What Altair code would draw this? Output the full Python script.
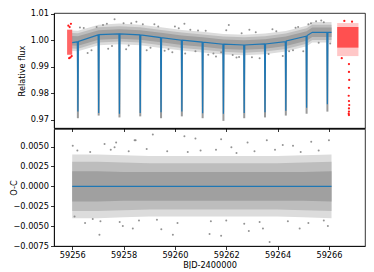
import altair as alt
import pandas as pd

# ---------------- data ----------------
# Blue transit model (time, relative flux)
model_t = [59256.00, 59256.20, 59256.22, 59256.24, 59257.01, 59257.03, 59257.05,
           59257.82, 59257.84, 59257.86, 59258.63, 59258.65, 59258.67, 59259.44,
           59259.46, 59259.48, 59260.25, 59260.27, 59260.29, 59261.06, 59261.08,
           59261.10, 59261.87, 59261.89, 59261.91, 59262.68, 59262.70, 59262.72,
           59263.49, 59263.51, 59263.53, 59264.30, 59264.32, 59264.34, 59265.11,
           59265.13, 59265.15, 59265.35, 59265.92, 59265.94, 59265.96, 59266.10]
model_f = [0.9991, 0.9994, 0.9730, 0.9995, 1.0020, 0.9725, 1.0021,
           1.0024, 0.9722, 1.0024, 1.0020, 0.9725, 1.0020, 1.0010,
           0.9728, 1.0010, 1.0000, 0.9730, 1.0000, 0.9993, 0.9724,
           0.9993, 0.9985, 0.9722, 0.9985, 0.9982, 0.9725, 0.9982,
           0.9986, 0.9728, 0.9986, 0.9995, 0.9733, 0.9997, 1.0015,
           0.9745, 1.0018, 1.0030, 1.0030, 0.9758, 1.0030, 1.0030]

# Transit mid-times and the lowest gray points in each transit
transit_t = [59256.22, 59257.03, 59257.84, 59258.65, 59259.46, 59260.27, 59261.08,
             59261.89, 59262.70, 59263.51, 59264.32, 59265.13, 59265.94]
transit_top = [0.9995, 1.0020, 1.0024, 1.0020, 1.0010, 1.0000, 0.9993,
               0.9985, 0.9982, 0.9986, 0.9996, 1.0016, 1.0030]
transit_gray_min = [0.9705, 0.9715, 0.9708, 0.9712, 0.9705, 0.9712, 0.9705,
                    0.9695, 0.9705, 0.9708, 0.9715, 0.9722, 0.9730]

# Gray flux cloud: centre line and half-widths (core / mid / outer)
band_t = [59256.0, 59256.22, 59257.03, 59257.84, 59258.65, 59259.46, 59260.27,
          59261.08, 59261.89, 59262.70, 59263.51, 59264.32, 59265.13, 59265.35,
          59265.94, 59266.1]
band_center = [0.9998, 0.9997, 1.0020, 1.0024, 1.0020, 1.0010, 1.0000,
               0.9993, 0.9985, 0.9982, 0.9986, 0.9996, 1.0016, 1.0030,
               1.0030, 1.0030]
band_core = 0.0018
band_mid = 0.0029
band_outer = 0.0039

# Sparse gray points in the flux panel
top_out_t = [59256.30, 59256.60, 59257.20, 59257.65, 59258.30, 59258.50, 59258.90,
             59259.20, 59259.60, 59260.00, 59260.37, 59260.40, 59260.90, 59261.30,
             59261.60, 59261.80, 59262.00, 59262.10, 59262.40, 59262.50, 59262.90,
             59263.30, 59263.80, 59264.20, 59264.80, 59265.00, 59265.30, 59265.50,
             59265.80, 59257.40, 59258.10, 59259.90, 59263.00, 59264.60,
             59256.45, 59256.75, 59256.95, 59257.35, 59257.55, 59258.00, 59258.20,
             59258.75, 59259.05, 59259.35, 59259.75, 59260.15, 59260.60, 59260.80,
             59261.20, 59261.50, 59262.25, 59262.60, 59263.15, 59263.65, 59263.95,
             59264.45, 59264.70, 59265.20, 59265.60, 59265.70, 59266.05]
top_out_f = [1.0048, 0.9952, 1.0058, 1.0079, 1.0064, 1.0070, 0.9962,
             1.0060, 0.9960, 1.0052, 1.0062, 0.9950, 1.0037, 0.9945,
             0.9938, 0.9955, 1.0038, 1.0058, 0.9935, 0.9937, 1.0040,
             0.9932, 1.0042, 0.9940, 1.0050, 0.9958, 1.0064, 1.0072,
             1.0068, 0.9968, 0.9966, 0.9955, 0.9936, 0.9962,
             1.0046, 0.9962, 1.0050, 1.0062, 0.9978, 1.0064, 0.9980,
             1.0060, 0.9972, 1.0052, 0.9966, 1.0045, 1.0040, 0.9958,
             1.0036, 0.9950, 0.9944, 1.0026, 1.0030, 0.9948, 1.0034,
             0.9958, 1.0047, 1.0060, 0.9990, 1.0075, 0.9988]

# Red (other-instrument) data: two clusters
red1_t0, red1_t1 = 59255.80, 59256.00
red1_lo, red1_hi = 0.9945, 1.0040
red1_pt_t = [59255.85, 59255.90, 59255.95, 59255.88, 59255.93, 59255.98]
red1_pt_f = [1.0055, 1.0050, 1.0062, 0.9932, 0.9935, 0.9940]
red2_t0, red2_t1 = 59266.32, 59267.15
red2_lo, red2_hi = 0.9972, 1.0050
red2_sp_lo, red2_sp_hi = 0.9940, 1.0065
red2_pt_t = [59266.78, 59266.78, 59266.79, 59266.78, 59266.77, 59266.78, 59266.79,
             59266.78, 59266.78, 59266.77, 59266.78, 59266.60, 59266.90, 59266.50]
red2_pt_f = [0.9910, 0.9880, 0.9850, 0.9820, 0.9790, 0.9770, 0.9755,
             0.9742, 0.9730, 0.9722, 0.9717, 1.0073, 1.0070, 0.9932]

# Residual (O-C) panel: cloud half-widths over time
res_band_t = [59256.0, 59257.0, 59258.0, 59259.0, 59260.0, 59261.0, 59262.0,
              59263.0, 59264.0, 59265.0, 59266.1]
res_core = [0.0019, 0.0019, 0.0018, 0.0018, 0.0018, 0.0018, 0.0018,
            0.0018, 0.0018, 0.0018, 0.0019]
res_mid = [0.0031, 0.0031, 0.0030, 0.0029, 0.0029, 0.0029, 0.0029,
           0.0029, 0.0029, 0.0030, 0.0031]
res_outer = [0.0040, 0.0040, 0.0039, 0.0038, 0.0038, 0.0038, 0.0038,
             0.0038, 0.0038, 0.0039, 0.0040]
res_out_t = [59256.02, 59257.71, 59258.47, 59257.06, 59257.97, 59258.36, 59256.09,
             59256.80, 59257.26, 59257.65, 59260.37, 59260.80, 59261.80, 59262.20,
             59259.92, 59261.80, 59261.35, 59262.88, 59259.47, 59262.83, 59263.58,
             59265.31, 59266.00, 59263.69, 59263.43, 59264.86, 59265.96, 59264.20,
             59264.60, 59259.14, 59258.43,
             59256.20, 59256.50, 59256.70, 59257.10, 59257.50, 59257.85, 59258.20,
             59258.60, 59258.90, 59259.30, 59259.70, 59260.10, 59260.50, 59261.00,
             59261.40, 59261.60, 59262.00, 59262.40, 59262.70, 59263.10, 59263.30,
             59263.90, 59264.40, 59264.90, 59265.20, 59265.60, 59265.80]
res_out_r = [0.0051, 0.0055, 0.0058, -0.0061, -0.0050, -0.0053, -0.0038,
             -0.0041, 0.0053, 0.0049, 0.0063, 0.0060, 0.0059, 0.0049,
             -0.0061, -0.0062, -0.0060, -0.0056, -0.0054, 0.0055, 0.0058,
             0.0056, 0.0058, -0.0070, -0.0053, -0.0053, -0.0050, 0.0052,
             0.0051, 0.0065, 0.0058,
             0.0045, -0.0046, 0.0043, -0.0044, 0.0046, -0.0045, 0.0044,
             -0.0043, 0.0047, -0.0042, 0.0044, -0.0046, 0.0043, 0.0045,
             -0.0044, 0.0046, -0.0043, 0.0042, -0.0047, 0.0044, -0.0045,
             0.0046, -0.0044, 0.0043, -0.0046, 0.0045, -0.0043]
res_line_t = [59256.0, 59266.1]

x_ticks = [59256, 59258, 59260, 59262, 59264, 59266]
flux_ticks = [0.97, 0.98, 0.99, 1.00, 1.01]
res_ticks = [-0.0075, -0.0050, -0.0025, 0.0000, 0.0025, 0.0050]

# ---------------- tables ----------------
model_df = pd.DataFrame({"t": model_t, "f": model_f})
dip_df = pd.DataFrame({"t": transit_t, "top": transit_top, "lo": transit_gray_min})
band_df = pd.DataFrame({"t": band_t, "c": band_center})
for name, hw in [("core", band_core), ("mid", band_mid), ("outer", band_outer)]:
    band_df[name + "_lo"] = band_df["c"] - hw
    band_df[name + "_hi"] = band_df["c"] + hw
top_out_df = pd.DataFrame({"t": top_out_t, "f": top_out_f})
red_rect_df = pd.DataFrame({
    "t0": [red1_t0, red2_t0, red2_t0], "t1": [red1_t1, red2_t1, red2_t1],
    "lo": [red1_lo, red2_sp_lo, red2_lo], "hi": [red1_hi, red2_sp_hi, red2_hi],
    "op": [0.6, 0.22, 0.6]})
red_pt_df = pd.DataFrame({"t": red1_pt_t + red2_pt_t, "f": red1_pt_f + red2_pt_f})
res_band_df = pd.DataFrame({"t": res_band_t})
for name, hw in [("core", res_core), ("mid", res_mid), ("outer", res_outer)]:
    res_band_df[name + "_lo"] = [-v for v in hw]
    res_band_df[name + "_hi"] = hw
res_out_df = pd.DataFrame({"t": res_out_t, "r": res_out_r})
res_line_df = pd.DataFrame({"t0": [res_line_t[0]], "t1": [res_line_t[1]], "r": [0.0]})

# ---------------- scales & axes ----------------
W = 311
xs = alt.Scale(domain=[59255.29, 59267.405], nice=False, zero=False)
ys_top = alt.Scale(domain=[0.9668, 1.0103], nice=False, zero=False)
ys_bot = alt.Scale(domain=[-0.0075, 0.0072], nice=False, zero=False)

x_top_axis = alt.Axis(values=x_ticks, labels=False, title=None)
x_bot_axis = alt.Axis(values=x_ticks, format="d", title="BJD-2400000",
                      titlePadding=3, labelPadding=1.5)
y_top_axis = alt.Axis(values=flux_ticks, format=".2f", title="Relative flux", titlePadding=4)
y_bot_axis = alt.Axis(values=res_ticks, format=".4f", title="O-C", titleX=-36)

GRAY_OUT, GRAY_MID, GRAY_CORE = "#dcdcdc", "#bdbdbd", "#a0a0a0"

def tx(field="t"):
    return alt.X(f"{field}:Q", scale=xs, axis=x_top_axis)

def ty(field):
    return alt.Y(f"{field}:Q", scale=ys_top, axis=y_top_axis)

top_layers = []
for name, col in [("outer", GRAY_OUT), ("mid", GRAY_MID), ("core", GRAY_CORE)]:
    top_layers.append(
        alt.Chart(band_df).mark_area(color=col, interpolate="linear").encode(
            x=tx(), y=ty(name + "_lo"), y2=alt.Y2(name + "_hi")))
top_layers.append(
    alt.Chart(dip_df).mark_rule(color="#9a9a9a", strokeWidth=2).encode(
        x=tx(), y=ty("lo"), y2=alt.Y2("top")))
top_layers.append(
    alt.Chart(top_out_df).mark_point(filled=True, size=4, color="#808080", opacity=0.85).encode(
        x=tx(), y=ty("f")))
top_layers.append(
    alt.Chart(red_rect_df).mark_rect(color="#ff0000").encode(
        x=tx("t0"), x2=alt.X2("t1"), y=ty("lo"), y2=alt.Y2("hi"),
        opacity=alt.Opacity("op:Q", scale=None, legend=None)))
top_layers.append(
    alt.Chart(red_pt_df).mark_point(filled=True, size=5, color="#ff0000", opacity=0.9).encode(
        x=tx(), y=ty("f")))
top_layers.append(
    alt.Chart(model_df).mark_line(color="#1f77b4", strokeWidth=1.2).encode(
        x=tx(), y=ty("f"), order=alt.Order("t:Q")))
top = alt.layer(*top_layers).properties(width=W, height=115)

def bx(field="t"):
    return alt.X(f"{field}:Q", scale=xs, axis=x_bot_axis)

def by(field):
    return alt.Y(f"{field}:Q", scale=ys_bot, axis=y_bot_axis)

bot_layers = []
for name, col in [("outer", GRAY_OUT), ("mid", GRAY_MID), ("core", GRAY_CORE)]:
    bot_layers.append(
        alt.Chart(res_band_df).mark_area(color=col).encode(
            x=bx(), y=by(name + "_lo"), y2=alt.Y2(name + "_hi")))
bot_layers.append(
    alt.Chart(res_out_df).mark_point(filled=True, size=4, color="#808080", opacity=0.85).encode(
        x=bx(), y=by("r")))
bot_layers.append(
    alt.Chart(res_line_df).mark_rule(color="#1f77b4", strokeWidth=1.3).encode(
        x=bx("t0"), x2=alt.X2("t1"), y=by("r")))
bottom = alt.layer(*bot_layers).properties(width=W, height=117)

chart = alt.vconcat(top, bottom, spacing=1, bounds="flush").properties(
    padding={"left": 0, "top": 0, "right": 0, "bottom": 0}
).configure_view(
    stroke="#000000", strokeWidth=0.8
).configure_axis(
    grid=False, labelFont="DejaVu Sans", titleFont="DejaVu Sans",
    labelFontSize=8.2, titleFontSize=8.2, titleFontWeight="normal",
    labelColor="#000000", titleColor="#000000", tickColor="#000000",
    domainColor="#000000", tickSize=3.5, tickWidth=0.8, domainWidth=0.8,
    labelPadding=2
)

chart.save("out.html", embed_options={"renderer": "svg", "actions": False})
